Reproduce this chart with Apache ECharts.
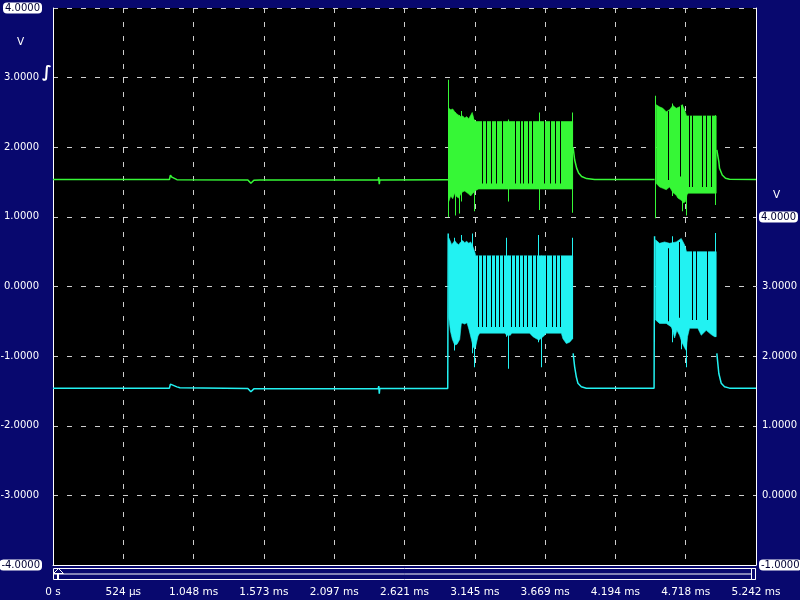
<!DOCTYPE html>
<html>
<head>
<meta charset="utf-8">
<script src="https://cdn.jsdelivr.net/npm/echarts@6/dist/echarts.min.js"></script>
<style>html,body{margin:0;padding:0;background:#08086e;}#c{width:800px;height:600px;}</style>
</head>
<body>
<div id="c"></div>
<script>
// ---------- tick labels ----------
const xTickLabels = ['0 s','524 µs','1.048 ms','1.573 ms','2.097 ms','2.621 ms','3.145 ms','3.669 ms','4.194 ms','4.718 ms','5.242 ms'];
const yLeftLabels = ['-4.0000','-3.0000','-2.0000','-1.0000','0.0000','1.0000','2.0000','3.0000','4.0000'];
const yRightLabels = ['-1.0000','0.0000','1.0000','2.0000','3.0000','4.0000'];

// ---------- Channel A (green, left axis) : time ms, volts ----------
const greenTracePre = [[0,1.537],[0.8681,1.537],[0.8755,1.600],[0.8867,1.570],[0.9016,1.550],[0.9240,1.535],[1.4530,1.530],[1.4754,1.482],[1.4977,1.525],[1.5424,1.530],[2.4254,1.530],[2.4291,1.570],[2.4329,1.470],[2.4366,1.530],[2.9470,1.535]];
const greenTraceMid = [[3.8784,2.000],[3.8896,1.820],[3.9045,1.700],[3.9194,1.630],[3.9417,1.580],[3.9790,1.550],[4.0386,1.537],[4.4857,1.537]];
const greenTracePost = [[4.9499,1.961],[4.9648,1.793],[4.9700,1.698],[4.9901,1.602],[5.0148,1.555],[5.0445,1.540],[5.242,1.537]];

const greenB1Top = [[2.9507,2.56],[2.9656,2.54],[2.9805,2.55],[2.9954,2.51],[3.0103,2.48],[3.0252,2.46],[3.0401,2.44],[3.0550,2.45],[3.0699,2.42],[3.0848,2.44],[3.0997,2.41],[3.1146,2.46],[3.1258,2.50],[3.1370,2.42],[3.1519,2.37],[3.8747,2.37]];
const greenB1Bottom = [[2.9507,1.22],[2.9656,1.30],[2.9805,1.26],[2.9954,1.34],[3.0103,1.29],[3.0252,1.27],[3.0401,1.33],[3.0550,1.36],[3.0699,1.37],[3.0848,1.35],[3.0997,1.33],[3.1146,1.30],[3.1258,1.33],[3.1370,1.35],[3.1519,1.38],[3.1743,1.40],[3.8747,1.40]];
const greenB2Top = [[4.4983,2.61],[4.5229,2.58],[4.5475,2.56],[4.5728,2.51],[4.5975,2.54],[4.6221,2.60],[4.6474,2.56],[4.6720,2.58],[4.6921,2.61],[4.7092,2.54],[4.7241,2.45],[4.9454,2.45]];
const greenB2Bottom = [[4.4983,1.48],[4.5229,1.43],[4.5475,1.41],[4.5728,1.39],[4.5975,1.43],[4.6221,1.35],[4.6474,1.31],[4.6593,1.27],[4.6847,1.24],[4.7018,1.20],[4.7167,1.22],[4.7279,1.32],[4.7390,1.34],[4.9454,1.34]];
const greenSpikes = [[2.9470,1.00,2.97],[3.0029,1.02,2.50],[3.0327,1.05,2.46],[3.0476,1.22,2.52],[3.1444,1.08,2.40],[3.3978,1.22,2.40],[3.6288,1.10,2.50],[3.8724,1.06,2.50],
  [4.4894,0.98,2.74],[4.6221,1.30,2.63],[4.6921,1.08,2.61],[4.7219,1.02,2.45],[4.9402,1.17,2.46]];
const greenGaps = [[3.1407,1.48,2.42],[3.1989,1.48,2.38],[3.2361,1.48,2.38],[3.2711,1.48,2.38],[3.3062,1.48,2.38],[3.3509,1.48,2.38],[3.4500,1.48,2.38],[3.4850,1.48,2.38],[3.5118,1.48,2.38],[3.5446,1.48,2.38],[3.5789,1.48,2.38],[3.6660,1.48,2.38],[3.7107,1.48,2.38],[3.7480,1.48,2.38],[3.7830,1.48,2.38],
  [4.5900,1.53,2.52],[4.6794,1.58,2.60],[4.6943,1.50,2.58],[4.7465,1.43,2.46],[4.7711,1.43,2.46],[4.8411,1.43,2.46],[4.8709,1.43,2.46],[4.9082,1.43,2.46]];

// ---------- Channel B (cyan, right axis) ----------
const cyanTracePre = [[0,1.540],[0.8681,1.540],[0.8755,1.598],[0.8867,1.580],[0.9240,1.558],[0.9463,1.545],[1.4530,1.535],[1.4754,1.487],[1.4977,1.530],[2.4254,1.535],[2.4291,1.570],[2.4329,1.460],[2.4366,1.535],[2.9433,1.535],[2.9470,3.760]];
const cyanTraceMid = [[3.8784,2.040],[3.8896,1.850],[3.9023,1.700],[3.9142,1.610],[3.9395,1.560],[3.9768,1.540],[4.4820,1.540],[4.4857,3.720]];
const cyanTracePost = [[4.9499,2.040],[4.9648,1.750],[4.9827,1.610],[5.0073,1.560],[5.0445,1.540],[5.242,1.540]];

const cyanB1Top = [[2.9507,3.70],[2.9582,3.67],[2.9731,3.60],[2.9954,3.66],[3.0103,3.62],[3.0252,3.60],[3.0401,3.64],[3.0550,3.66],[3.0699,3.63],[3.0848,3.65],[3.0997,3.62],[3.1146,3.64],[3.1295,3.58],[3.1444,3.50],[3.1519,3.44],[3.8747,3.44]];
const cyanB1Bottom = [[2.9507,2.56],[2.9634,2.36],[2.9783,2.24],[2.9954,2.16],[3.0126,2.17],[3.0327,2.24],[3.0453,2.48],[3.0699,2.46],[3.0871,2.48],[3.1020,2.38],[3.1199,2.24],[3.1318,2.14],[3.1444,2.10],[3.1519,2.14],[3.1691,2.29],[3.1817,2.33],[3.3680,2.33],[3.3851,2.30],[3.4105,2.30],[3.4201,2.33],[3.5543,2.33],[3.5789,2.28],[3.6042,2.25],[3.6251,2.23],[3.6362,2.25],[3.6661,2.30],[3.6736,2.33],[3.7905,2.33],[3.8024,2.25],[3.8277,2.18],[3.8523,2.20],[3.8747,2.25]];
const cyanB2Top = [[4.4931,3.67],[4.5229,3.62],[4.5603,3.64],[4.5975,3.62],[4.6474,3.64],[4.6847,3.69],[4.7092,3.60],[4.7241,3.50],[4.9454,3.50]];
const cyanB2Bottom = [[4.4931,2.52],[4.5229,2.47],[4.5728,2.47],[4.6101,2.42],[4.6221,2.36],[4.6347,2.26],[4.6519,2.37],[4.6720,2.30],[4.6891,2.20],[4.7092,2.12],[4.7219,2.08],[4.7316,2.28],[4.7465,2.40],[4.8083,2.40],[4.8337,2.30],[4.8709,2.37],[4.9082,2.31],[4.9328,2.28],[4.9454,2.28]];
const cyanSpikes = [[2.9954,2.08,3.70],[3.0453,2.47,3.74],[3.1273,2.04,3.76],[3.1444,1.84,3.45],[3.3807,2.28,3.70],[3.3978,1.82,3.44],[3.6213,2.20,3.74],[3.6415,1.84,3.44],[3.8724,2.25,3.70],
  [4.6198,2.20,3.72],[4.6891,2.10,3.66],[4.7219,1.84,3.50],[4.9402,2.28,3.77]];
const cyanGaps = [[3.1691,2.42,3.45],[3.2063,2.42,3.45],[3.2361,2.42,3.45],[3.2689,2.42,3.45],[3.2987,2.42,3.45],[3.3307,2.42,3.45],[3.3605,2.42,3.45],[3.4179,2.42,3.45],[3.4500,2.42,3.45],[3.4798,2.42,3.45],[3.5096,2.42,3.45],[3.5416,2.42,3.45],[3.5744,2.42,3.45],[3.6042,2.42,3.45],[3.6787,2.42,3.45],[3.7234,2.42,3.45],[3.7532,2.42,3.45],[3.7830,2.42,3.45],
  [4.5922,2.50,3.55],[4.6720,2.55,3.64],[4.7711,2.52,3.51],[4.8009,2.52,3.51],[4.8829,2.52,3.51]];

const GREEN = '#36f736', CYAN = '#22f2f2', NAVY = '#08086e';
const FONT = 'DejaVu Sans';

const greenBands = [{top: greenB1Top, bottom: greenB1Bottom}, {top: greenB2Top, bottom: greenB2Bottom}];
const cyanBands = [{top: cyanB1Top, bottom: cyanB1Bottom}, {top: cyanB2Top, bottom: cyanB2Bottom}];

function bandSeries(bands, color, yIdx) {
  return {
    type: 'custom', yAxisIndex: yIdx, clip: true, silent: true, z: 3,
    data: bands.map(b => [b.top[0][0], b.top[0][1]]),
    encode: {x: 0, y: 1},
    renderItem: function (params, api) {
      const b = bands[params.dataIndex];
      const pts = b.top.map(p => api.coord(p)).concat(b.bottom.slice().reverse().map(p => api.coord(p)));
      return {type: 'polygon', shape: {points: pts}, style: {fill: color, stroke: color, lineWidth: 0.6}};
    }
  };
}
function vSeries(data, color, yIdx, z) {
  return {
    type: 'custom', yAxisIndex: yIdx, clip: true, silent: true, z: z,
    data: data, encode: {x: 0, y: [1, 2]},
    renderItem: function (params, api) {
      const p1 = api.coord([api.value(0), api.value(1)]);
      const p2 = api.coord([api.value(0), api.value(2)]);
      return {type: 'rect', shape: {x: Math.floor(p1[0]), y: p2[1], width: 1, height: p1[1] - p2[1]}, style: {fill: color}};
    }
  };
}
function lineSeries(data, color, yIdx) {
  return {type: 'line', data: data, yAxisIndex: yIdx, showSymbol: false, silent: true, z: 2,
    lineStyle: {color: color, width: 1.5}, itemStyle: {color: color}};
}

const chart = echarts.init(document.getElementById('c'));
const box = {backgroundColor: '#ffffff', color: '#000033', borderRadius: 4, padding: [1, 2, 0, 2], fontSize: 10, lineHeight: 12, fontFamily: FONT};
const plain = {color: '#ffffff', padding: [0, 3, 0, 3], fontSize: 10, fontFamily: FONT};
const dashed = {show: true, lineStyle: {color: '#cfcfcf', type: [5, 9], width: 1}};

chart.setOption({
  animation: false,
  backgroundColor: NAVY,
  grid: {left: 53, right: 44, top: 8, bottom: 35, show: true, backgroundColor: '#000000', borderWidth: 0, containLabel: false, outerBoundsMode: 'none'},
  xAxis: {
    type: 'value', min: 0, max: 5.242, interval: 0.5242,
    axisLine: {show: true, onZero: false, lineStyle: {color: '#ffffff', width: 1}},
    axisTick: {show: false},
    splitLine: dashed,
    axisLabel: {color: '#ffffff', fontSize: 10.5, fontFamily: FONT, margin: 22, showMinLabel: true, showMaxLabel: true,
      formatter: v => xTickLabels[Math.round(v / 0.5242)] || ''}
  },
  yAxis: [{
    type: 'value', min: -4, max: 4, interval: 1, position: 'left',
    axisLine: {show: true, onZero: false, lineStyle: {color: '#ffffff', width: 1}},
    axisTick: {show: false},
    splitLine: dashed,
    axisLabel: {margin: 11, rich: {b: box, p: plain},
      formatter: v => { const s = yLeftLabels[Math.round(v + 4)]; return (Math.abs(v) === 4) ? '{b|' + s + '}' : '{p|' + s + '}'; }}
  }, {
    type: 'value', min: -1, max: 7, interval: 1, position: 'right',
    axisLine: {show: true, onZero: false, lineStyle: {color: '#ffffff', width: 1}},
    axisTick: {show: false},
    splitLine: {show: false},
    axisLabel: {margin: 3, rich: {b: box, p: plain},
      formatter: v => { if (v > 4) return ''; const s = yRightLabels[Math.round(v + 1)]; return (v === 4 || v === -1) ? '{b|' + s + '}' : '{p|' + s + '}'; }}
  }],
  graphic: [
    {type: 'text', left: 17, top: 37, style: {text: 'V', fill: '#ffffff', font: '10.5px ' + FONT}},
    {type: 'text', left: 773, top: 190, style: {text: 'V', fill: '#ffffff', font: '10.5px ' + FONT}},
    {type: 'text', left: 42, top: 65, style: {text: '∫', fill: '#ffffff', font: 'bold 16px ' + FONT}},
    {type: 'rect', shape: {x: 53.5, y: 568.5, width: 702, height: 11}, style: {stroke: '#ffffff', fill: 'none', lineWidth: 1}},
    {type: 'line', shape: {x1: 53.5, y1: 574, x2: 755.5, y2: 574}, style: {stroke: '#ffffff', lineWidth: 1}},
    {type: 'polygon', shape: {points: [[53.5, 573.5], [58.5, 568.5], [63.5, 573.5]]}, style: {stroke: '#ffffff', fill: NAVY, lineWidth: 1}},
    {type: 'rect', shape: {x: 57, y: 574, width: 2, height: 5}, style: {fill: '#ffffff'}},
    {type: 'rect', shape: {x: 751.5, y: 568.5, width: 4, height: 11}, style: {stroke: '#ffffff', fill: NAVY, lineWidth: 1}}
  ],
  series: [
    lineSeries(greenTracePre, GREEN, 0),
    lineSeries(greenTraceMid, GREEN, 0),
    lineSeries(greenTracePost, GREEN, 0),
    bandSeries(greenBands, GREEN, 0),
    vSeries(greenGaps, '#000000', 0, 4),
    vSeries(greenSpikes, GREEN, 0, 5),
    lineSeries(cyanTracePre, CYAN, 1),
    lineSeries(cyanTraceMid, CYAN, 1),
    lineSeries(cyanTracePost, CYAN, 1),
    bandSeries(cyanBands, CYAN, 1),
    vSeries(cyanGaps, '#000000', 1, 4),
    vSeries(cyanSpikes, CYAN, 1, 5)
  ]
});
</script>
</body>
</html>
